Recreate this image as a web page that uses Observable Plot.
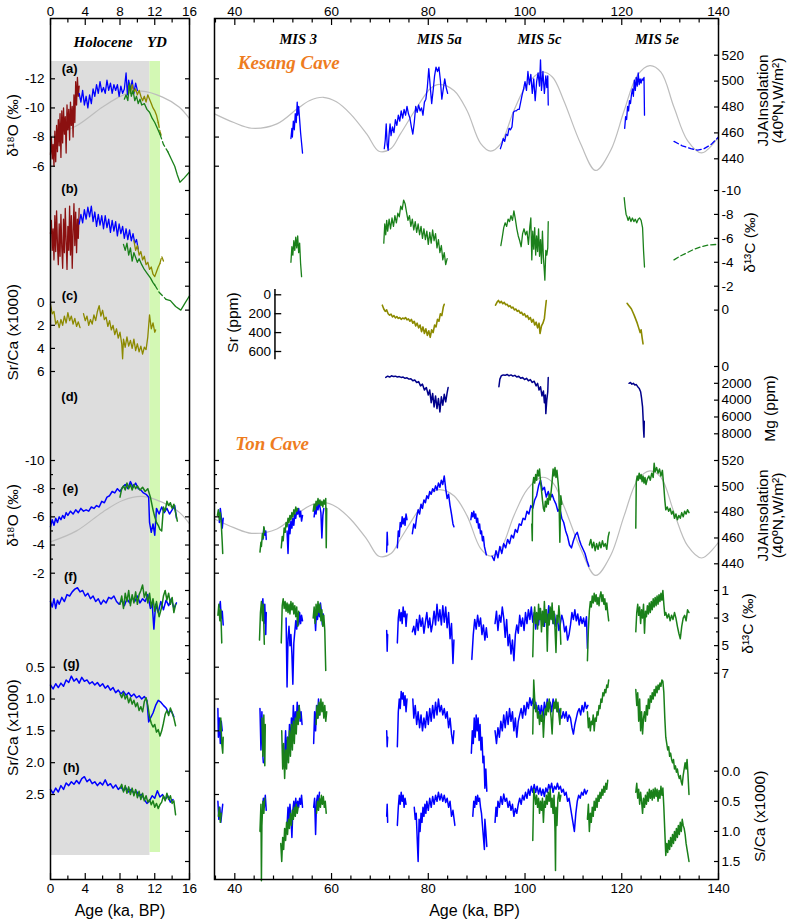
<!DOCTYPE html>
<html><head><meta charset="utf-8">
<script src="https://cdn.jsdelivr.net/npm/d3@7"></script>
<script src="https://cdn.jsdelivr.net/npm/@observablehq/plot@0.6"></script>
<style>
body{margin:0;background:#fff}
#chart{position:relative;width:787px;height:919px;background:#fff;overflow:hidden}
#chart svg{position:absolute;left:0;top:0}
</style></head><body><div id="chart"></div>
<script>
// ===================== DATA (age ka BP, value) =====================
// JJA insolation 40N (W/m2)
const insolation = [[0,457],[3,465.5],[6,480],[8.3,489],[10.5,492.2],[12.9,487.6],[14.8,480],[16,471],
 [35.8,474.7],[39.8,468],[43.5,463.6],[48.7,467],[52.9,478.6],[55.5,485],[58.3,487.5],[61,484],[63.9,474.7],[67.3,459],[69.8,445.8],[72.3,448],[74.2,459],[77.7,480],[80.5,494.5],[82.3,497.5],[85.3,492.7],[88,477.3],[90.8,452],[92.9,446],[95,451.8],[97.7,477.3],[100.5,497.9],[103.5,507],[105.7,503],[108,485],[111.5,451.6],[114.6,431],[117.7,446.4],[120.5,477.3],[123.2,504.3],[125.8,512],[128.1,506.9],[130.8,479.8],[133.6,454],[136.5,444.5],[140,456.7]];

// Kesang Cave, Holocene panel: d18O (a)
const kO18Brown = [[0,-6.8],[0.1,-8.0],[0.2,-6.5],[0.3,-7.5],[0.4,-6.0],[0.5,-8.4],[0.6,-6.3],[0.7,-8.8],[0.8,-7.0],[0.9,-9.2],[1.0,-7.4],[1.1,-9.6],[1.2,-6.6],[1.3,-9.8],[1.4,-7.6],[1.5,-10.0],[1.6,-8.2],[1.7,-9.4],[1.8,-6.9],[1.9,-10.2],[2.0,-8.5],[2.1,-9.9],[2.2,-7.8],[2.3,-10.4],[2.4,-8.8],[2.5,-10.1],[2.6,-8.0],[2.7,-10.9],[2.8,-9.0],[2.9,-11.8],[3.0,-10.2],[3.1,-12.1],[3.2,-10.8],[3.3,-11.5]];
const kO18Blue = [[3.3,-11.0],[3.5,-10.4],[3.7,-11.2],[3.9,-10.2],[4.1,-10.8],[4.3,-10.0],[4.5,-10.9],[4.7,-10.3],[4.9,-11.3],[5.1,-10.8],[5.3,-11.6],[5.5,-11.0],[5.7,-11.8],[5.9,-11.1],[6.1,-11.4],[6.3,-11.0],[6.5,-11.9],[6.7,-11.2],[6.9,-11.7],[7.1,-11.0],[7.3,-11.6],[7.5,-11.2],[7.7,-11.6],[7.9,-10.8],[8.1,-11.5],[8.3,-11.0],[8.5,-11.3],[8.7,-12.4],[8.85,-10.9],[9.0,-11.9],[9.2,-11.2],[9.4,-11.9],[9.6,-11.0],[9.8,-11.7],[10.0,-11.2]];
const kO18Green = [[8.5,-10.6],[8.7,-10.9],[8.9,-10.5],[9.1,-11.7],[9.3,-10.8],[9.5,-11.2],[9.7,-10.5],[9.9,-10.8],[10.1,-10.3],[10.3,-10.6],[10.5,-10.2],[10.8,-10.3],[11.1,-9.9],[11.4,-9.7],[11.7,-9.3],[12.0,-9.0],[12.3,-8.6],[12.6,-8.2]];
const kO18GreenDash = [[12.6,-8.2],[13.0,-7.5],[13.5,-7.0]];
const kO18GreenTail = [[13.5,-7.0],[13.9,-6.5],[14.3,-6.0],[14.6,-5.4],[14.9,-4.9],[15.4,-5.2],[16,-5.6]];
const kO18Olive = [[9.0,-11.5],[9.2,-11.0],[9.4,-11.6],[9.6,-11.1],[9.8,-11.3],[10.0,-10.9],[10.2,-11.2],[10.4,-10.8],[10.6,-10.5],[10.8,-10.8],[11.0,-10.4],[11.2,-10.9],[11.4,-10.6],[11.6,-10.3],[11.8,-10.0],[12.0,-9.8],[12.2,-9.5],[12.4,-9.0]];
const kO18OliveDash = [[12.4,-9.0],[12.6,-8.4],[12.8,-8.0]];

// Kesang Cave, Holocene panel: d13C (b)
const kC13Brown = [[0,-6.4],[0.1,-7.5],[0.2,-5.0],[0.3,-6.8],[0.4,-4.2],[0.5,-7.9],[0.6,-4.9],[0.7,-8.3],[0.8,-5.5],[0.9,-3.8],[1.0,-7.2],[1.1,-4.5],[1.2,-8.0],[1.3,-5.2],[1.4,-3.5],[1.5,-7.6],[1.6,-4.8],[1.7,-8.5],[1.8,-5.8],[1.9,-3.4],[2.0,-7.0],[2.1,-5.0],[2.2,-8.7],[2.3,-4.6],[2.4,-7.9],[2.5,-3.5],[2.6,-6.5],[2.7,-8.9],[2.8,-5.4],[2.9,-8.2],[3.0,-4.8],[3.1,-7.6],[3.2,-6.0],[3.3,-8.5]];
const kC13Blue = [[3.3,-7.2],[3.5,-8.0],[3.7,-7.3],[3.9,-8.4],[4.1,-7.6],[4.3,-8.6],[4.5,-7.8],[4.7,-8.7],[4.9,-7.4],[5.1,-8.2],[5.3,-7.0],[5.5,-8.0],[5.7,-7.1],[5.9,-7.9],[6.1,-6.8],[6.3,-7.9],[6.5,-6.9],[6.7,-7.6],[6.9,-6.5],[7.1,-7.5],[7.3,-6.6],[7.5,-7.4],[7.7,-6.2],[7.9,-7.2],[8.1,-6.4],[8.3,-7.0],[8.5,-6.0],[8.7,-6.8],[8.9,-5.9],[9.1,-6.7],[9.3,-5.8],[9.5,-6.4],[9.7,-5.6],[9.9,-5.9],[10.1,-5.1]];
const kC13Green = [[8.4,-5.5],[8.6,-5.0],[8.8,-5.6],[9.0,-4.6],[9.2,-5.2],[9.4,-4.1],[9.6,-4.8],[9.8,-4.4],[10.0,-4.0],[10.2,-4.3],[10.5,-3.8],[10.8,-3.4],[11.1,-3.1],[11.5,-2.7],[11.8,-2.3],[12.0,-2.1]];
const kC13GreenDash = [[12.0,-2.1],[12.5,-1.5],[13.3,-0.9]];
const kC13GreenTail = [[13.3,-0.9],[13.8,-0.8],[14.4,-0.3],[15.0,0.0],[15.5,-0.6],[16,-1.2]];
const kC13Olive = [[9.6,-5.8],[9.8,-5.0],[10.0,-5.4],[10.2,-4.6],[10.4,-4.9],[10.6,-4.2],[10.8,-4.5],[11.0,-3.8],[11.2,-4.0],[11.4,-3.4],[11.6,-3.6],[11.8,-3.0],[12.0,-2.8],[12.2,-3.2],[12.4,-3.6],[12.6,-3.9]];
const kC13OliveDash = [[12.6,-3.9],[12.8,-4.5],[13.0,-4.1]];

// Kesang Cave, Holocene panel: Sr/Ca x1000 (c)
const kSrCa1 = [[0,0.2],[0.2,1.0],[0.4,0.8],[0.6,1.9],[0.8,1.6],[1.0,2.2],[1.2,1.5],[1.4,2.0],[1.6,1.2],[1.8,1.8],[2.0,0.9],[2.2,1.6],[2.4,1.2],[2.6,1.9],[2.8,1.4],[3.0,2.1],[3.2,1.7],[3.4,2.2]];
const kSrCa2 = [[3.8,1.0],[4.0,1.6],[4.2,1.2],[4.4,2.0],[4.6,1.5],[4.8,1.9],[5.0,1.1],[5.2,1.6],[5.4,0.8],[5.6,0.3],[5.8,1.2],[6.0,0.7],[6.2,1.5],[6.4,1.3],[6.6,2.1],[6.8,1.6],[7.0,2.4],[7.2,2.0],[7.4,2.8],[7.6,2.3],[7.8,3.1],[8.0,2.6],[8.2,3.6],[8.3,4.9],[8.4,3.2],[8.6,3.9],[8.8,3.0],[9.0,3.8],[9.2,3.3],[9.4,4.0],[9.6,3.2],[9.8,4.2],[10.0,3.6],[10.2,4.3],[10.4,3.8],[10.6,4.5],[10.8,3.9],[11.0,4.1],[11.2,3.0],[11.4,1.1],[11.6,2.3],[11.8,1.8],[12.0,2.6],[12.1,2.4]];

// Kesang Cave, last glacial panel
const kO18BlueR = [
 [[51.6,-7.9],[51.8,-8.6],[51.9,-8.0],[52.1,-9.1],[52.3,-8.5],[52.5,-9.6],[52.7,-9.0],[52.9,-10.4],[53.0,-9.5],[53.2,-10.1],[53.4,-9.2],[53.6,-8.3],[53.8,-7.6],[54.0,-6.9]],
 [[70.9,-7.2],[71.1,-7.8],[71.3,-8.9],[71.5,-7.5],[71.7,-7.1],[71.9,-8.2],[72.1,-8.9],[72.3,-8.1],[72.6,-8.7],[72.9,-8.3],[73.2,-9.2],[73.5,-8.8],[73.8,-9.5],[74.1,-9.1],[74.4,-9.8],[74.7,-9.3],[75.0,-9.9],[75.3,-9.5],[75.6,-10.1],[75.9,-9.6],[76.2,-9.3],[76.5,-8.7],[76.8,-8.2],[77.1,-9.0],[77.4,-10.1],[77.7,-9.7],[78.0,-10.2],[78.3,-9.8],[78.6,-10.0],[78.9,-9.5],[79.2,-10.4],[79.5,-10.6],[79.8,-11.4],[80.1,-12.7],[80.4,-11.5],[80.7,-10.3],[81.0,-11.2],[81.3,-12.2],[81.6,-12.8],[81.9,-12.5],[82.2,-12.8],[82.5,-11.9],[82.8,-10.6],[83.1,-11.3],[83.4,-12.0],[83.7,-11.4],[84.0,-11.0]],
 [[94.9,-7.2],[95.2,-7.5],[95.5,-7.9],[95.8,-7.7],[96.1,-8.2],[96.4,-8.1],[96.7,-8.6],[97.0,-8.5],[97.3,-8.7],[97.6,-9.7],[97.9,-9.8],[98.2,-9.8],[98.5,-9.9],[98.8,-9.9],[99.1,-10.4],[99.4,-10.9],[99.7,-11.3],[100.0,-11.8],[100.3,-11.2],[100.6,-12.5],[100.9,-11.6],[101.2,-12.3],[101.5,-11.0],[101.8,-12.0],[102.1,-10.5],[102.4,-11.8],[102.7,-12.4],[103.0,-11.5],[103.2,-13.3],[103.4,-11.2],[103.7,-12.5],[104.0,-11.0],[104.3,-12.2],[104.5,-11.4],[104.7,-12.2],[104.8,-10.2]],
 [[120.6,-8.6],[120.8,-9.4],[121.0,-9.2],[121.2,-10.1],[121.4,-9.8],[121.6,-10.5],[121.8,-10.3],[122.0,-10.9],[122.2,-11.3],[122.4,-10.8],[122.6,-11.9],[122.8,-11.2],[123.0,-12.1],[123.2,-11.5],[123.4,-12.4],[123.6,-11.6],[123.8,-12.0],[124.0,-11.7],[124.2,-12.0],[124.4,-11.9],[124.6,-12.1],[124.7,-9.5]]
];
const kO18BlueRDash = [[130.8,-7.7],[132.5,-7.4],[134.3,-7.2],[135.7,-7.1],[137.0,-7.2],[138.5,-7.5],[140,-8.0]];
const kC13GreenR = [
 [[51.6,-4.0],[51.8,-5.3],[52.0,-4.6],[52.2,-5.8],[52.4,-5.0],[52.6,-6.1],[52.8,-5.2],[53.0,-6.2],[53.2,-4.8],[53.4,-5.6],[53.6,-3.9],[53.8,-2.8]],
 [[70.8,-5.6],[71.0,-7.2],[71.2,-6.3],[71.4,-7.5],[71.6,-6.6],[71.9,-7.6],[72.2,-6.8],[72.5,-7.7],[72.8,-7.0],[73.1,-7.9],[73.4,-7.3],[73.7,-8.1],[74.0,-7.8],[74.3,-8.7],[74.6,-8.4],[74.9,-9.2],[75.2,-8.9],[75.5,-8.2],[75.8,-7.5],[76.1,-7.9],[76.4,-7.0],[76.7,-7.6],[77.0,-6.7],[77.3,-7.4],[77.6,-6.5],[77.9,-7.2],[78.2,-6.3],[78.5,-7.0],[78.8,-6.0],[79.1,-6.8],[79.4,-5.9],[79.7,-6.6],[80.0,-5.5],[80.3,-6.5],[80.6,-5.6],[80.9,-6.7],[81.2,-5.8],[81.5,-6.4],[81.8,-5.2],[82.1,-5.9],[82.4,-4.8],[82.7,-5.4],[83.0,-4.2],[83.3,-4.8],[83.6,-3.8],[83.9,-4.3]],
 [[95.0,-5.4],[95.3,-6.1],[95.6,-6.9],[95.9,-7.3],[96.2,-7.0],[96.5,-7.6],[96.8,-7.4],[97.1,-7.9],[97.4,-7.5],[97.7,-8.3],[98.0,-7.6],[98.3,-6.8],[98.6,-6.2],[98.9,-5.8],[99.2,-5.3],[99.5,-6.4],[99.8,-6.8],[100.1,-6.3],[100.4,-6.6],[100.7,-5.5],[101.0,-7.0],[101.2,-7.7],[101.4,-4.2],[101.6,-6.6],[101.8,-5.1],[102.0,-6.9],[102.2,-4.6],[102.4,-6.2],[102.6,-4.9],[102.8,-6.8],[103.0,-4.5],[103.2,-5.9],[103.4,-3.9],[103.6,-6.6],[103.8,-4.4],[104.0,-3.2],[104.1,-2.5],[104.3,-5.0],[104.5,-4.6],[104.7,-5.2],[104.8,-7.4]],
 [[120.5,-9.4],[120.7,-8.6],[120.9,-8.0],[121.1,-7.8],[121.3,-7.5],[121.6,-7.8],[121.9,-7.4],[122.2,-7.7],[122.5,-7.4],[122.8,-7.6],[123.1,-7.3],[123.4,-7.6],[123.7,-7.7],[124.0,-7.5],[124.3,-6.9],[124.5,-5.0],[124.7,-3.6]]
];
const kC13GreenRDash = [[130.8,-4.2],[132.0,-4.5],[133.5,-4.8],[135.0,-5.1],[136.5,-5.3],[138.0,-5.45],[140,-5.5]];
const kSr = [
 [[70.5,110],[70.8,150],[71.1,175],[71.4,160],[71.7,200],[72.0,215],[72.3,205],[72.6,235],[72.9,220],[73.2,245],[73.5,230],[73.8,250],[74.1,240],[74.4,260],[74.7,245],[75.0,255],[75.3,240],[75.6,265],[75.9,255],[76.2,280],[76.5,260],[76.8,300],[77.1,280],[77.4,330],[77.7,300],[78.0,350],[78.3,320],[78.6,390],[78.9,340],[79.2,410],[79.5,360],[79.8,430],[80.1,380],[80.4,450],[80.7,370],[81.0,400],[81.3,320],[81.6,340],[81.9,260],[82.2,280],[82.5,200],[82.8,220],[83.1,130],[83.3,100]],
 [[93.9,110],[94.2,80],[94.5,60],[94.8,85],[95.1,70],[95.4,95],[95.7,80],[96.0,105],[96.3,100],[96.6,125],[96.9,115],[97.2,140],[97.5,130],[97.8,160],[98.1,150],[98.4,175],[98.7,165],[99.0,195],[99.3,185],[99.6,215],[99.9,200],[100.2,235],[100.5,220],[100.8,260],[101.1,240],[101.4,290],[101.7,260],[102.0,320],[102.3,290],[102.6,350],[102.9,300],[103.1,410],[103.4,330],[103.7,300],[104.0,250],[104.2,150],[104.4,60]],
 [[121.1,90],[121.4,110],[121.7,130],[122.0,150],[122.3,185],[122.6,220],[122.9,260],[123.2,300],[123.5,350],[123.8,400],[124.0,370],[124.2,450],[124.4,520]]
];
const kMg = [
 [[71.2,1300],[71.6,1150],[72.0,1250],[72.4,1100],[72.8,1200],[73.2,1150],[73.6,1250],[74.0,1200],[74.4,1300],[74.8,1250],[75.2,1400],[75.6,1350],[76.0,1500],[76.4,1450],[76.8,1700],[77.2,1600],[77.6,1900],[78.0,1800],[78.4,2300],[78.8,2100],[79.2,2800],[79.6,2500],[80.0,3400],[80.3,2800],[80.6,4300],[80.9,3200],[81.2,4800],[81.5,3500],[81.8,5000],[82.1,3800],[82.4,5400],[82.7,3600],[83.0,4600],[83.3,3300],[83.6,4200],[83.9,3100],[84.1,2500]],
 [[94.6,2400],[94.8,1500],[95.1,1100],[95.5,1000],[95.9,1050],[96.3,950],[96.7,1100],[97.1,1000],[97.5,1150],[97.9,1050],[98.3,1250],[98.7,1150],[99.1,1400],[99.5,1300],[99.9,1550],[100.3,1400],[100.7,1700],[101.1,1550],[101.5,1900],[101.9,1750],[102.3,2300],[102.6,2000],[102.9,2800],[103.2,2400],[103.5,3500],[103.8,2900],[104.0,4300],[104.2,3400],[104.3,5600],[104.5,4000],[104.7,3000],[104.8,1300]],
 [[121.5,2000],[121.8,1900],[122.1,2100],[122.4,2000],[122.7,2200],[123.0,2150],[123.3,2400],[123.6,2600],[123.9,3000],[124.1,3800],[124.3,4800],[124.4,6000],[124.5,7500],[124.6,8400],[124.65,6500]]
];

// Ton Cave, Holocene panel
const tO18BlueL = [[0,-5.3],[0.2,-5.8],[0.4,-5.4],[0.6,-5.9],[0.8,-5.6],[1.0,-6.0],[1.2,-5.8],[1.4,-6.1],[1.6,-5.9],[1.8,-6.3],[2.0,-6.1],[2.3,-6.4],[2.6,-6.2],[2.9,-6.5],[3.2,-6.3],[3.5,-6.6],[3.8,-6.4],[4.1,-6.5],[4.4,-6.4],[4.7,-6.7],[5.0,-6.6],[5.3,-6.8],[5.6,-6.7],[5.9,-7.1],[6.2,-7.0],[6.5,-7.4],[6.8,-7.5],[7.1,-7.8],[7.4,-7.7],[7.7,-8.0],[8.0,-7.8],[8.3,-8.1],[8.6,-8.3],[8.9,-8.0],[9.2,-8.5],[9.5,-8.1],[9.8,-8.4],[10.1,-8.0],[10.4,-7.9],[10.7,-7.7],[11.0,-7.6],[11.3,-7.4],[11.4,-5.6],[11.6,-4.9],[11.8,-5.5],[12.0,-4.7],[12.2,-6.6],[12.5,-6.2],[12.8,-6.7],[13.1,-6.3],[13.4,-6.6],[13.7,-6.2],[14.0,-6.5],[14.3,-6.8],[14.5,-5.9]];
const tO18GreenL = [[8.0,-7.4],[8.2,-8.0],[8.4,-8.2],[8.6,-7.9],[8.8,-8.4],[9.0,-8.0],[9.2,-8.3],[9.4,-7.9],[9.6,-8.3],[9.8,-8.0],[10.0,-8.2],[10.3,-7.9],[10.6,-8.1],[10.9,-7.8],[11.2,-8.0],[11.5,-7.4],[11.8,-6.5],[12.0,-6.0],[12.2,-5.6],[12.4,-5.4],[12.6,-5.1],[12.8,-5.0],[13.0,-6.7],[13.2,-6.4],[13.4,-7.1],[13.6,-6.8],[13.8,-7.0],[14.0,-6.6],[14.2,-6.9],[14.4,-6.3],[14.6,-5.7]];
const tC13BlueL = [[0,1.8],[0.2,2.2],[0.4,1.6],[0.6,2.3],[0.8,1.7],[1.0,2.0],[1.3,1.5],[1.6,1.8],[1.9,1.3],[2.2,1.4],[2.5,1.1],[2.8,0.9],[3.1,0.8],[3.4,1.1],[3.7,1.0],[4.0,1.4],[4.3,1.2],[4.6,1.6],[4.9,1.4],[5.2,1.8],[5.5,1.6],[5.8,2.0],[6.1,1.7],[6.4,1.9],[6.7,1.5],[7.0,1.6],[7.3,1.4],[7.6,1.8],[7.9,2.0],[8.2,1.7],[8.5,2.1],[8.8,1.6],[9.1,1.9],[9.4,1.5],[9.7,1.8],[10.0,1.4],[10.3,1.9],[10.6,1.6],[10.9,1.8],[11.2,1.3],[11.5,2.3],[11.7,1.9],[11.9,3.8],[12.1,2.0],[12.4,2.6],[12.7,1.8],[13.0,2.4],[13.3,1.7],[13.6,2.1],[13.9,1.6],[14.2,2.3],[14.5,1.9]];
const tC13GreenL = [[8.0,2.0],[8.2,1.4],[8.4,2.3],[8.6,1.2],[8.8,1.8],[9.0,1.0],[9.2,2.1],[9.4,1.3],[9.6,1.9],[9.8,1.1],[10.0,2.0],[10.2,1.3],[10.4,1.0],[10.6,0.6],[10.8,1.5],[11.0,1.1],[11.2,1.9],[11.4,1.2],[11.6,2.2],[11.8,1.6],[12.0,2.5],[12.2,1.8],[12.5,2.9],[12.8,2.2],[13.0,1.4],[13.2,1.0],[13.4,1.7],[13.6,1.2],[13.8,2.0],[14.0,1.5],[14.2,2.6],[14.4,2.0]];
const tGBlueL = [[0,0.78],[0.3,0.84],[0.6,0.76],[0.9,0.82],[1.2,0.75],[1.5,0.80],[1.8,0.70],[2.1,0.74],[2.4,0.64],[2.7,0.72],[3.0,0.68],[3.3,0.75],[3.6,0.66],[3.9,0.72],[4.2,0.70],[4.5,0.76],[4.8,0.73],[5.1,0.78],[5.4,0.74],[5.7,0.80],[6.0,0.76],[6.3,0.83],[6.6,0.79],[6.9,0.86],[7.2,0.82],[7.5,0.90],[7.8,0.86],[8.1,0.92],[8.4,0.88],[8.7,0.94],[9.0,0.90],[9.3,0.96],[9.6,0.92],[9.9,0.98],[10.2,0.95],[10.5,1.00],[10.8,0.96],[11.1,1.02],[11.3,1.36],[11.5,1.30],[11.8,1.22],[12.1,1.10],[12.4,1.02],[12.7,1.05],[13.0,1.10],[13.3,1.14],[13.6,1.22],[13.9,1.18],[14.2,1.28]];
const tGGreenL = [[8.0,0.92],[8.2,0.98],[8.4,0.90],[8.6,1.00],[8.8,0.94],[9.0,1.06],[9.2,0.98],[9.4,1.08],[9.6,1.02],[9.8,1.12],[10.0,1.06],[10.2,1.18],[10.4,1.12],[10.6,1.20],[10.8,1.04],[11.0,0.98],[11.2,1.10],[11.4,1.28],[11.6,1.38],[11.8,1.44],[12.0,1.40],[12.2,1.52],[12.4,1.48],[12.6,1.58],[12.8,1.50],[13.0,1.38],[13.2,1.24],[13.4,1.18],[13.6,1.26],[13.8,1.14],[14.0,1.22],[14.2,1.30],[14.4,1.42]];
const tHBlueL = [[0,2.42],[0.3,2.48],[0.6,2.40],[0.9,2.46],[1.2,2.36],[1.5,2.42],[1.8,2.32],[2.1,2.36],[2.4,2.30],[2.7,2.34],[3.0,2.28],[3.3,2.33],[3.6,2.25],[3.9,2.22],[4.2,2.30],[4.5,2.26],[4.8,2.33],[5.1,2.30],[5.4,2.36],[5.7,2.31],[6.0,2.35],[6.3,2.27],[6.6,2.36],[6.9,2.33],[7.2,2.40],[7.5,2.35],[7.8,2.42],[8.1,2.38],[8.4,2.44],[8.7,2.40],[9.0,2.46],[9.3,2.42],[9.6,2.48],[9.9,2.45],[10.2,2.52],[10.5,2.50],[10.8,2.58],[11.1,2.64],[11.4,2.60],[11.7,2.52],[12.0,2.56],[12.3,2.44],[12.6,2.54],[12.9,2.50],[13.2,2.58],[13.5,2.52],[13.8,2.62],[14.1,2.58]];
const tHGreenL = [[8.0,2.40],[8.2,2.34],[8.4,2.46],[8.6,2.36],[8.8,2.48],[9.0,2.38],[9.2,2.50],[9.4,2.40],[9.6,2.52],[9.8,2.42],[10.0,2.55],[10.2,2.45],[10.4,2.58],[10.6,2.48],[10.8,2.60],[11.0,2.52],[11.2,2.62],[11.4,2.58],[11.6,2.66],[11.8,2.60],[12.0,2.70],[12.2,2.64],[12.4,2.72],[12.6,2.66],[12.8,2.62],[13.0,2.52],[13.2,2.60],[13.4,2.48],[13.6,2.58],[13.8,2.52],[14.0,2.64],[14.2,2.60],[14.4,2.82]];

// Ton Cave, last glacial panel: d18O (e)
const tO18BlueR = [
 [[36.8,-5.6],[37.0,-6.6],[37.2,-6.0],[37.4,-5.2],[37.6,-5.9]],
 [[45.8,-4.4],[46.0,-5.2],[46.2,-4.7],[46.4,-5.0],[46.5,-4.4]],
 [[50.8,-5.0],[51.0,-3.4],[51.2,-5.5],[51.4,-4.8],[51.6,-5.7],[51.8,-5.2],[52.0,-5.9],[52.2,-5.4],[52.4,-6.2],[52.6,-5.9],[52.8,-6.5],[53.0,-6.2],[53.2,-6.6],[53.4,-6.0],[53.6,-6.4],[53.8,-5.7],[54.0,-6.1]],
 [[56.4,-6.0],[56.6,-6.6],[56.8,-6.2],[57.0,-6.9],[57.2,-6.5],[57.4,-7.0],[57.6,-6.7],[57.8,-6.3],[58.0,-4.5],[58.2,-6.1],[58.4,-6.6]],
 [[71.4,-3.5],[71.5,-4.9],[71.6,-4.0]],
 [[73.6,-3.8],[73.8,-5.0],[74.0,-4.6],[74.2,-5.6],[74.4,-5.3],[74.6,-6.0],[74.8,-5.5],[75.0,-5.9],[75.2,-5.4],[75.4,-6.2],[75.6,-5.8]],
 [[76.7,-4.8],[77.0,-5.5],[77.3,-5.2],[77.6,-6.0],[77.9,-6.5],[78.2,-6.2],[78.5,-6.9],[78.8,-6.6],[79.1,-7.2],[79.4,-7.0],[79.7,-7.5],[80.0,-7.3],[80.3,-7.8],[80.6,-7.6],[80.9,-8.0],[81.2,-7.8],[81.5,-8.2],[81.8,-7.9],[82.1,-8.4],[82.4,-8.1],[82.7,-8.6],[83.0,-8.3],[83.3,-8.9],[83.6,-8.0],[83.9,-7.3],[84.2,-7.6],[84.5,-6.8],[84.8,-6.2],[85.1,-5.5],[85.3,-5.3]],
 [[88.8,-5.8],[89.0,-6.3],[89.2,-6.0],[89.4,-6.4],[89.6,-5.9],[89.8,-6.2],[90.0,-5.6],[90.2,-5.9],[90.4,-5.2],[90.6,-5.5],[90.8,-4.8],[91.0,-5.0],[91.2,-4.3],[91.4,-4.6],[91.6,-3.9],[91.8,-3.6],[92.0,-3.3]],
 [[93.2,-3.2],[93.6,-2.9],[94.0,-3.6],[94.4,-3.1],[94.8,-3.9],[95.2,-3.4],[95.6,-4.1],[96.0,-3.8],[96.4,-4.4],[96.8,-4.1],[97.2,-4.7],[97.6,-4.5],[98.0,-5.1],[98.4,-4.9],[98.8,-5.5],[99.2,-5.4],[99.6,-5.9],[100.0,-5.8],[100.4,-6.4],[100.8,-6.2],[101.2,-6.8],[101.6,-6.6],[102.0,-7.2],[102.4,-7.5],[102.8,-8.2],[103.2,-8.6],[103.6,-7.9],[104.0,-8.1],[104.4,-7.4],[104.8,-7.8],[105.2,-7.3],[105.6,-7.6],[106.0,-7.2],[106.4,-6.9],[106.8,-6.4],[107.2,-6.6],[107.6,-5.9],[108.0,-5.6],[108.4,-5.0],[108.8,-4.6],[109.2,-4.0],[109.6,-3.8],[110.0,-4.3],[110.4,-4.7],[110.8,-4.9],[111.2,-4.4],[111.6,-4.0],[112.0,-3.7],[112.4,-3.4],[112.8,-2.9],[113.2,-2.5]]
];
const tO18GreenR = [
 [[36.4,-6.1],[36.6,-6.5],[36.8,-5.8],[37.0,-6.3],[37.2,-5.5],[37.4,-4.2],[37.5,-3.4]],
 [[45.2,-3.5],[45.4,-4.2],[45.5,-3.9],[45.7,-4.8],[45.9,-4.5],[46.0,-5.3],[46.2,-4.9]],
 [[49.6,-3.8],[49.8,-4.6],[50.0,-4.3],[50.2,-5.2],[50.4,-4.9],[50.6,-5.6],[50.8,-5.3],[51.0,-5.9],[51.2,-5.6],[51.4,-6.1],[51.6,-5.8],[51.8,-6.3],[52.0,-6.0],[52.2,-6.5],[52.4,-6.2],[52.6,-6.7],[52.8,-6.4],[53.0,-6.6]],
 [[56.2,-6.4],[56.4,-6.9],[56.6,-6.5],[56.8,-7.1],[57.0,-6.8],[57.2,-7.3],[57.4,-6.9],[57.6,-7.2],[57.8,-6.8],[58.0,-7.1],[58.2,-6.7],[58.4,-7.2],[58.6,-6.9],[58.8,-7.3],[58.9,-3.8],[59.0,-6.6]],
 [[101.4,-5.5],[101.5,-4.3],[101.6,-8.3],[101.8,-8.8],[102.0,-8.4],[102.2,-9.0],[102.4,-8.6],[102.6,-9.3],[102.8,-8.9],[103.0,-9.4],[103.2,-8.5],[103.4,-7.9],[103.6,-7.2],[103.8,-6.6],[104.0,-6.4],[104.2,-7.1],[104.4,-6.7],[104.6,-7.3],[104.8,-6.9],[105.0,-7.6],[105.2,-7.2],[105.4,-7.8],[105.6,-8.5],[105.8,-9.4],[106.0,-8.9],[106.2,-9.5],[106.4,-8.8],[106.6,-9.3],[106.8,-8.6],[107.0,-7.8],[107.2,-4.2],[107.4,-7.5],[107.6,-6.9]],
 [[113.3,-4.0],[113.6,-4.4],[113.9,-3.8],[114.2,-4.2],[114.5,-3.6],[114.8,-4.1],[115.1,-3.7],[115.4,-4.2],[115.7,-3.8],[116.0,-4.3],[116.3,-3.9],[116.6,-4.1],[116.9,-3.7],[117.2,-4.6],[117.4,-4.9]],
 [[122.9,-5.2],[123.0,-8.5],[123.2,-8.9],[123.4,-8.6],[123.6,-9.1],[123.8,-8.7],[124.0,-9.0],[124.2,-8.5],[124.4,-8.9],[124.6,-8.4],[124.8,-8.8],[125.0,-8.3],[125.3,-8.7],[125.6,-8.9],[125.9,-8.6],[126.2,-9.1],[126.5,-8.8],[126.7,-9.8],[126.9,-9.2],[127.2,-9.5],[127.5,-9.1],[127.8,-9.4],[128.1,-8.9],[128.4,-9.3],[128.7,-8.1],[128.9,-7.2],[129.1,-6.5],[129.4,-6.7],[129.7,-6.4],[130.0,-6.6],[130.3,-6.2],[130.6,-6.4],[130.9,-5.9],[131.2,-6.2],[131.5,-5.8],[131.8,-6.1],[132.1,-5.9],[132.4,-6.3],[132.7,-6.0],[133.0,-6.4],[133.3,-6.2],[133.6,-6.5],[133.9,-6.3]]
];
// Ton Cave, last glacial panel: d13C (f)
const tC13BlueR = [
 [[36.8,2.2],[37.0,1.8],[37.2,3.0],[37.4,2.5],[37.6,3.5]],
 [[45.6,2.2],[45.8,1.6],[46.0,3.4],[46.2,2.0],[46.4,4.2],[46.5,2.6]],
 [[50.6,3.0],[50.8,8.0],[51.0,4.5],[51.2,3.6],[51.4,5.0],[51.6,4.2],[51.8,5.6],[52.0,7.8],[52.2,4.8],[52.4,4.0],[52.6,3.2],[52.8,3.8],[53.0,2.9],[53.2,3.5],[53.4,2.6],[53.6,3.4],[53.8,2.8],[54.0,3.2]],
 [[56.5,2.6],[56.7,3.9],[56.9,2.4],[57.1,3.1],[57.3,2.2],[57.5,2.9],[57.7,1.9],[57.9,2.5],[58.1,3.5],[58.3,2.7]],
 [[71.4,3.9],[71.5,5.4],[71.6,4.2]],
 [[73.6,4.8],[73.8,3.0],[74.0,2.4],[74.2,3.2],[74.4,2.6],[74.6,3.4],[74.8,2.2],[75.0,2.9],[75.2,2.5],[75.4,3.6],[75.6,2.7]],
 [[76.7,4.0],[77.0,3.6],[77.3,4.2],[77.6,3.1],[77.9,3.9],[78.2,2.8],[78.5,3.6],[78.8,3.0],[79.1,4.1],[79.4,3.3],[79.7,2.6],[80.0,3.7],[80.3,3.0],[80.6,4.0],[80.9,3.4],[81.2,2.5],[81.5,3.5],[81.8,2.0],[82.1,3.2],[82.4,2.4],[82.7,3.5],[83.0,2.1],[83.3,3.3],[83.6,2.2],[83.9,3.7],[84.2,2.6],[84.5,4.5],[84.8,3.4],[85.1,6.3],[85.3,4.6]],
 [[89.0,6.0],[89.3,4.2],[89.6,3.1],[89.9,3.8],[90.2,2.8],[90.5,3.6],[90.8,3.0],[91.1,4.2],[91.4,3.5],[91.7,4.6],[92.0,3.7],[92.2,4.4]],
 [[93.8,3.4],[94.1,2.5],[94.4,3.9],[94.7,2.8],[95.0,3.3],[95.3,2.2],[95.6,3.0],[95.9,4.4],[96.2,3.1],[96.5,5.0],[96.8,4.2],[97.1,5.6],[97.4,4.6],[97.7,6.1],[98.0,4.2],[98.3,3.5],[98.6,4.1],[98.9,2.8],[99.2,3.6],[99.5,3.0],[99.8,3.9],[100.1,2.6],[100.4,3.4],[100.7,2.4],[101.0,3.1],[101.3,2.2],[101.6,3.3],[101.9,2.6],[102.2,3.8],[102.5,2.9],[102.8,3.5],[103.1,2.3],[103.4,3.2],[103.7,2.6],[104.0,3.6],[104.3,2.4],[104.6,3.3],[104.9,2.1],[105.2,3.0],[105.5,2.6],[105.8,3.4],[106.1,2.7],[106.4,3.6],[106.7,3.0],[107.0,3.9],[107.3,3.4],[107.6,2.8],[107.9,3.2],[108.2,4.0],[108.5,3.6],[108.8,4.6],[109.1,4.2],[109.4,3.5],[109.7,2.6],[110.0,3.1],[110.3,2.4],[110.6,3.2],[110.9,2.7],[111.2,3.5],[111.5,2.9],[111.8,3.4],[112.1,3.0],[112.4,3.6],[112.7,2.9],[112.9,5.2]]
];
const tC13GreenR = [
 [[36.5,2.8],[36.7,2.0],[36.9,3.2],[37.1,2.4],[37.3,4.8]],
 [[45.1,4.6],[45.3,2.6],[45.5,1.8],[45.7,3.2],[45.9,2.0],[46.1,4.9]],
 [[49.6,4.8],[49.8,2.1],[50.0,1.6],[50.2,2.3],[50.4,1.8],[50.6,2.5],[50.8,1.9],[51.0,2.6],[51.2,2.0],[51.4,2.7],[51.6,1.8],[51.8,2.4],[52.0,1.9],[52.2,2.7],[52.4,2.1],[52.6,2.9],[52.8,2.2],[53.0,3.6],[53.2,2.5]],
 [[56.2,3.0],[56.4,2.2],[56.6,3.4],[56.8,2.0],[57.0,2.8],[57.2,1.8],[57.4,2.6],[57.6,2.0],[57.8,3.2],[58.0,2.4],[58.2,3.6],[58.4,2.8],[58.6,3.9],[58.8,6.8]],
 [[101.6,5.8],[101.8,3.0],[102.0,2.2],[102.2,3.4],[102.4,2.6],[102.6,3.8],[102.8,2.0],[103.0,3.1],[103.2,2.3],[103.4,4.0],[103.6,2.5],[103.8,3.6],[104.0,1.8],[104.2,3.3],[104.4,2.4],[104.6,5.4],[104.8,2.7],[105.0,3.5],[105.2,2.2],[105.4,3.1],[105.6,1.9],[105.8,3.4],[106.0,2.5],[106.2,3.8],[106.4,5.5],[106.6,2.8],[106.8,3.3],[107.0,2.1],[107.2,3.0],[107.4,4.9]],
 [[112.9,6.1],[113.1,3.8],[113.3,2.5],[113.5,1.8],[113.7,2.2],[113.9,1.4],[114.1,1.9],[114.3,1.2],[114.5,1.8],[114.7,1.3],[114.9,2.0],[115.1,1.5],[115.3,2.1],[115.5,1.4],[115.7,1.1],[115.9,1.8],[116.1,1.3],[116.3,2.0],[116.5,1.6],[116.7,2.4],[116.9,1.9],[117.1,2.6],[117.3,3.2]],
 [[122.9,4.0],[123.1,2.6],[123.3,2.0],[123.5,2.8],[123.7,2.2],[123.9,3.4],[124.1,2.4],[124.3,3.0],[124.5,2.0],[124.7,4.1],[124.9,2.5],[125.1,2.9],[125.3,2.1],[125.5,2.7],[125.7,1.9],[125.9,2.6],[126.1,1.8],[126.3,2.4],[126.5,1.6],[126.7,2.2],[126.9,1.5],[127.1,2.1],[127.3,1.4],[127.5,2.0],[127.7,1.3],[127.9,1.8],[128.1,1.2],[128.3,1.7],[128.5,1.0],[128.7,2.0],[128.9,2.8],[129.1,2.6],[129.4,3.0],[129.7,2.7],[130.0,3.2],[130.3,2.8],[130.6,3.1],[130.9,2.6],[131.2,3.0],[131.5,3.6],[131.8,4.1],[132.1,4.5],[132.4,3.6],[132.7,3.0],[133.0,2.8],[133.3,3.2],[133.6,2.4],[133.9,2.6]]
];
// Ton Cave, last glacial panel: Sr/Ca x1000 (g)
const tGBlueR = [
 [[36.5,1.15],[36.6,1.6],[36.8,1.3],[37.0,1.7],[37.2,1.35],[37.4,1.5]],
 [[45.2,1.15],[45.4,1.8],[45.6,1.2],[45.8,1.9],[45.9,2.0]],
 [[50.3,1.9],[50.5,1.5],[50.7,2.0],[50.9,1.6],[51.1,1.9],[51.3,1.4],[51.5,1.8],[51.7,1.3],[51.9,1.6],[52.1,1.1],[52.3,1.5],[52.5,1.2],[52.7,1.4],[52.9,1.05],[53.1,1.3],[53.3,1.1],[53.5,1.35],[53.7,1.2],[53.9,1.4]],
 [[56.3,1.7],[56.5,1.2],[56.7,1.5],[56.9,1.1],[57.1,1.3],[57.3,1.0],[57.5,1.25]],
 [[71.4,1.5],[71.5,1.75],[71.6,1.6]],
 [[73.6,1.75],[73.8,1.2],[74.0,1.0],[74.2,1.15],[74.4,0.88],[74.6,1.0],[74.8,0.9],[75.0,1.1],[75.2,0.95],[75.4,1.2],[75.6,1.0]],
 [[76.8,1.0],[77.0,1.3],[77.3,1.1],[77.6,1.4],[77.9,1.2],[78.2,1.45],[78.5,1.25],[78.8,1.5],[79.1,1.3],[79.4,1.45],[79.7,1.2],[80.0,1.4],[80.3,1.15],[80.6,1.35],[80.9,1.1],[81.2,1.3],[81.5,1.05],[81.8,1.25],[82.1,1.0],[82.4,1.2],[82.7,1.1],[83.0,1.25],[83.3,1.15],[83.6,1.3],[83.9,1.2],[84.2,1.45],[84.5,1.3],[84.8,1.55],[85.1,1.7],[85.3,1.5]],
 [[88.9,1.85],[89.1,1.5],[89.3,1.7],[89.5,1.3],[89.7,1.6],[89.9,1.25],[90.1,1.5],[90.3,1.3],[90.5,1.65],[90.7,1.4],[90.9,1.8],[91.1,1.6],[91.3,2.0],[91.5,1.9],[91.7,2.4],[91.9,2.1],[92.1,2.45]],
 [[93.8,1.5],[94.1,1.7],[94.4,1.45],[94.7,1.6],[95.0,1.35],[95.3,1.5],[95.6,1.25],[95.9,1.45],[96.2,1.2],[96.5,1.4],[96.8,1.15],[97.1,1.35],[97.4,1.2],[97.7,1.5],[98.0,1.3],[98.3,1.6],[98.6,1.35],[98.9,1.25],[99.2,1.15],[99.5,1.3],[99.8,1.1],[100.1,1.25],[100.4,1.05],[100.7,1.15],[101.0,0.98],[101.3,1.1],[101.6,1.0],[101.9,1.15],[102.2,1.05],[102.5,1.2],[102.8,1.1],[103.1,1.25],[103.4,1.1],[103.7,1.3],[104.0,1.05],[104.3,1.2],[104.6,1.0],[104.9,1.15],[105.2,1.05],[105.5,1.2],[105.8,1.0],[106.1,1.1],[106.4,1.05],[106.7,1.2],[107.0,1.15],[107.3,1.25],[107.6,1.3],[107.9,1.2],[108.2,1.3],[108.5,1.2],[108.8,1.35],[109.1,1.25],[109.4,1.3],[109.7,1.45],[110.0,1.55],[110.3,1.4],[110.6,1.3],[110.9,1.2],[111.2,1.15],[111.5,1.25],[111.8,1.1],[112.1,1.2],[112.4,1.05],[112.7,1.15],[113.0,1.1]]
];
const tGGreenR = [
 [[36.9,1.5],[37.1,1.3],[37.3,1.7],[37.5,1.85],[37.6,1.6]],
 [[45.6,1.3],[45.8,1.9],[46.0,1.25],[46.2,2.05],[46.3,1.4]],
 [[49.7,1.5],[49.9,2.1],[50.1,1.7],[50.3,2.25],[50.5,1.8],[50.7,2.1],[50.9,1.6],[51.1,2.0],[51.3,1.5],[51.5,1.9],[51.7,1.4],[51.9,1.8],[52.1,1.35],[52.3,1.7],[52.5,1.3],[52.7,1.55],[52.9,1.2],[53.1,1.4],[53.3,1.1],[53.5,1.3]],
 [[56.8,1.4],[57.0,1.1],[57.2,1.3],[57.4,1.05],[57.6,1.25],[57.8,1.0],[58.0,1.2],[58.2,1.05],[58.4,1.3],[58.6,1.1],[58.8,1.35],[59.0,1.2]],
 [[101.6,1.55],[101.8,0.7],[102.0,1.0],[102.2,1.2],[102.4,1.1],[102.6,1.3],[102.8,1.2],[103.0,1.4],[103.2,1.25],[103.4,1.35],[103.6,1.2],[103.8,1.6],[104.0,1.3],[104.2,1.15],[104.4,1.25],[104.6,1.05],[104.8,1.2],[105.0,1.0],[105.2,1.15],[105.4,1.3],[105.6,1.55],[105.8,1.2],[106.0,1.05],[106.2,1.15],[106.4,1.0],[106.6,1.2],[106.8,1.05],[107.0,1.25],[107.2,1.4],[107.4,1.15]],
 [[112.9,1.2],[113.1,1.45],[113.3,1.3],[113.5,1.5],[113.7,1.35],[113.9,1.4],[114.1,1.25],[114.3,1.5],[114.5,1.3],[114.7,1.35],[114.9,1.2],[115.1,1.25],[115.3,1.1],[115.5,1.15],[115.7,1.0],[115.9,1.05],[116.1,0.9],[116.3,0.95],[116.5,0.85],[116.7,0.9],[116.9,0.78],[117.1,0.82],[117.3,0.7]],
 [[122.9,0.85],[123.1,1.1],[123.3,0.9],[123.5,1.35],[123.7,1.0],[123.9,1.5],[124.1,1.2],[124.3,1.55],[124.5,1.3],[124.7,1.2],[124.9,1.35],[125.1,1.1],[125.3,1.25],[125.5,1.0],[125.7,1.15],[125.9,0.95],[126.1,1.05],[126.3,0.9],[126.5,1.0],[126.7,0.85],[126.9,0.95],[127.1,0.8],[127.3,0.9],[127.5,0.78],[127.7,0.85],[127.9,0.75],[128.1,0.8],[128.3,0.7],[128.5,0.72],[128.7,0.9],[128.9,1.3],[129.1,1.6],[129.3,1.7],[129.5,1.8],[129.7,1.75],[129.9,1.9],[130.1,1.85],[130.3,1.95],[130.5,2.0],[130.7,1.95],[130.9,2.1],[131.1,2.05],[131.3,2.15],[131.5,2.1],[131.7,2.2],[131.9,2.25],[132.1,2.2],[132.3,2.3],[132.5,2.35],[132.7,2.2],[132.9,2.1],[133.1,2.0],[133.3,2.1],[133.5,1.95],[133.7,2.2],[133.9,2.5]]
];
// Ton Cave, last glacial panel: S/Ca x1000 (h)
const tSCaBlueR = [
 [[36.5,0.5],[36.7,0.8],[36.9,0.6],[37.1,0.85],[37.3,0.7],[37.5,0.55]],
 [[45.7,0.7],[45.9,0.45],[46.1,0.6],[46.3,0.4],[46.5,0.65]],
 [[50.8,0.9],[51.0,0.6],[51.2,0.8],[51.4,0.55],[51.6,0.75],[51.8,1.1],[52.0,0.65],[52.2,0.5],[52.4,0.7],[52.6,0.45],[52.8,0.65],[53.0,0.5],[53.2,0.6],[53.4,0.45],[53.6,0.55],[53.8,0.4],[54.0,0.6]],
 [[56.3,0.6],[56.5,0.45],[56.7,1.05],[56.9,0.5],[57.1,0.4],[57.3,0.55],[57.5,0.35]],
 [[71.4,0.75],[71.5,0.55],[71.6,0.85]],
 [[73.6,0.9],[73.8,0.6],[74.0,0.4],[74.2,0.55],[74.4,0.35],[74.6,0.5],[74.8,0.4],[75.0,0.6],[75.2,0.45],[75.4,0.55]],
 [[77.1,0.6],[77.3,0.8],[77.5,0.7],[77.7,1.1],[77.9,1.5],[78.1,0.8],[78.3,1.0],[78.5,0.7],[78.7,0.85],[78.9,0.6],[79.1,0.75],[79.3,0.55],[79.5,0.7],[79.7,0.5],[80.0,0.65],[80.3,0.45],[80.6,0.6],[80.9,0.42],[81.2,0.55],[81.5,0.4],[81.8,0.5],[82.1,0.35],[82.4,0.48],[82.7,0.38],[83.0,0.5],[83.3,0.4],[83.6,0.52],[83.9,0.45],[84.2,0.6],[84.5,0.5],[84.8,0.75],[85.1,0.65],[85.5,0.9]],
 [[89.2,0.75],[89.4,0.5],[89.6,0.6],[89.8,0.42],[90.0,0.55],[90.2,0.4],[90.4,0.5],[90.6,0.45],[90.8,0.6],[91.0,0.7],[91.2,0.9],[91.4,1.1],[91.6,1.3],[91.7,0.8],[91.9,1.0],[92.1,1.25]],
 [[93.8,0.85],[94.0,0.6],[94.2,0.75],[94.4,0.5],[94.7,0.6],[95.0,0.42],[95.3,0.55],[95.6,0.38],[95.9,0.5],[96.2,0.45],[96.5,0.6],[96.8,0.5],[97.1,0.65],[97.4,0.55],[97.7,0.75],[98.0,0.62],[98.3,0.7],[98.6,0.55],[98.9,0.45],[99.2,0.55],[99.5,0.4],[99.8,0.48],[100.1,0.35],[100.4,0.45],[100.7,0.3],[101.0,0.4],[101.3,0.25],[101.6,0.35],[101.9,0.22],[102.2,0.35],[102.5,0.25],[102.8,0.38],[103.1,0.28],[103.4,0.4],[103.7,0.3],[104.0,0.42],[104.3,0.28],[104.6,0.35],[104.9,0.22],[105.2,0.3],[105.5,0.2],[105.8,0.35],[106.1,0.25],[106.4,0.3],[106.7,0.2],[107.0,0.3],[107.3,0.25],[107.6,0.35],[107.9,0.3],[108.2,0.4],[108.5,0.35],[108.8,0.5],[109.1,0.45],[109.4,0.6],[109.7,0.75],[110.0,0.9],[110.2,1.0],[110.5,0.7],[110.8,0.5],[111.1,0.4],[111.4,0.45],[111.7,0.35],[112.0,0.4],[112.3,0.3],[112.6,0.38],[112.9,0.32]]
];
const tSCaGreenR = [
 [[36.6,0.75],[36.8,0.6],[37.0,0.85],[37.2,0.7]],
 [[45.2,1.0],[45.4,0.55],[45.5,1.82],[45.6,0.9],[45.8,0.5],[46.0,0.7],[46.2,0.45]],
 [[49.5,1.2],[49.7,1.5],[49.9,1.1],[50.1,1.3],[50.3,0.95],[50.5,1.15],[50.7,0.85],[50.9,1.05],[51.1,0.8],[51.3,0.95],[51.5,0.7],[51.7,0.9],[51.9,0.65],[52.1,0.8],[52.3,0.6],[52.5,0.75],[52.7,0.55],[52.9,0.7],[53.1,0.6]],
 [[56.9,0.7],[57.1,0.5],[57.3,0.65],[57.5,0.45],[57.7,0.6],[57.9,0.4],[58.1,0.55],[58.3,0.42],[58.5,0.6],[58.7,0.5],[58.9,0.7]],
 [[101.6,1.15],[101.8,0.3],[102.0,0.4],[102.2,0.55],[102.4,0.4],[102.6,0.6],[102.8,0.45],[103.0,0.7],[103.2,0.5],[103.4,0.65],[103.6,0.45],[103.8,0.85],[104.0,0.5],[104.2,0.6],[104.4,0.4],[104.6,0.55],[104.8,0.35],[105.0,0.5],[105.2,0.3],[105.4,0.6],[105.6,0.45],[105.8,0.7],[106.0,0.4],[106.2,1.0],[106.3,1.65],[106.4,0.6],[106.6,0.9],[106.8,0.45],[107.0,0.35],[107.2,0.5],[107.4,0.4]],
 [[112.9,0.8],[113.1,0.55],[113.3,1.0],[113.5,0.7],[113.7,0.85],[113.9,0.6],[114.1,0.75],[114.3,0.5],[114.5,0.65],[114.7,0.45],[114.9,0.6],[115.1,0.4],[115.3,0.5],[115.5,0.35],[115.7,0.45],[115.9,0.3],[116.1,0.4],[116.3,0.25],[116.5,0.35],[116.7,0.2],[116.9,0.3],[117.1,0.15]],
 [[122.9,0.35],[123.1,0.2],[123.3,0.45],[123.5,0.3],[123.7,0.55],[123.9,0.35],[124.1,0.5],[124.3,0.7],[124.5,0.45],[124.7,0.6],[124.9,0.4],[125.1,0.55],[125.3,0.35],[125.5,0.5],[125.7,0.3],[125.9,0.45],[126.1,0.32],[126.3,0.48],[126.5,0.3],[126.7,0.45],[126.9,0.28],[127.1,0.42],[127.3,0.3],[127.5,0.5],[127.7,0.32],[127.9,0.45],[128.1,0.25],[128.3,0.4],[128.5,0.28],[128.7,0.6],[128.9,1.0],[129.1,1.4],[129.3,1.2],[129.5,1.35],[129.7,1.15],[129.9,1.3],[130.1,1.1],[130.3,1.25],[130.5,1.05],[130.7,1.2],[130.9,1.0],[131.1,1.15],[131.3,0.95],[131.5,1.1],[131.7,0.9],[131.9,1.05],[132.1,0.85],[132.3,1.0],[132.5,0.8],[132.7,0.9],[132.9,0.95],[133.1,1.05],[133.3,1.2],[133.5,1.3],[133.7,1.4],[133.9,1.5]]
];

// Text labels
const periods = [{name:"Holocene", start:0, end:11.45, label:6.05}, {name:"YD", start:11.45, end:12.66, label:12.25}];
const misLabels = [{age:53.1, label:"MIS 3"}, {age:82.3, label:"MIS 5a"}, {age:103.0, label:"MIS 5c"}, {age:127.3, label:"MIS 5e"}];
const caveLabels = [{age:40.6, label:"Kesang Cave"}, {age:40.1, label:"Ton Cave"}];
const srTicks = [0, 200, 400, 600];

// ===================== LAYOUT =====================
const W = 787, H = 919, TOP = 18, BOT = 879;
const PANEL = {L: {left: 50, right: 189, domain: [0, 16]}, R: {left: 214, right: 718, domain: [35.8, 140]}};
const C = {blue: "#0000ff", green: "#1a801a", olive: "#8c8a00", brown: "#8b1010", navy: "#00008b", gray: "#bdbdbd", orange: "#ee7c1e"};
const FONT = "'Liberation Sans', Arial, sans-serif";
const SERIF = "'Liberation Serif', 'Times New Roman', serif";

function yDomain([v1, p1, v2, p2]) { const f = p => v1 + (p - p1) * (v2 - v1) / (p2 - p1); return [f(TOP), f(BOT)]; }
function makePlot(panel, cal, marks) {
  const P = PANEL[panel];
  const o = {width: W, height: H, marginLeft: P.left, marginRight: W - P.right, marginTop: TOP, marginBottom: H - BOT,
    x: {domain: P.domain, axis: null},
    style: {background: "none", fontFamily: FONT, fontSize: "13.5px", color: "#000", overflow: "visible"}, marks};
  if (cal) o.y = {domain: yDomain(cal), range: [TOP, BOT], axis: null};
  return Plot.plot(o);
}
const S = (segs, color, o = {}) => ({segs, color, ...o});
function seriesMarks(list) {
  const out = [];
  for (const s of list) for (const seg of s.segs)
    out.push(Plot.line(seg, {x: d => d[0], y: d => d[1], stroke: s.color, strokeWidth: s.w ?? 1.3, strokeDasharray: s.dash, curve: s.curve ?? "linear"}));
  return out;
}
const fInt = d => String(d), f1 = d => d.toFixed(1);
const insL = insolation.filter(d => d[0] <= 16), insR = insolation.filter(d => d[0] >= 35.8);
const INS = {curve: "catmull-rom", w: 1.2};
const DASH = {dash: "5,3"};

const SPECS = [
  {cal: [520, 54.7, 440, 158.3], ticks: [440, 460, 480, 500, 520], fmt: fInt,
   axes: [["R", "right", true]], titles: [["R", "right", 52, 485, "JJAInsolation\n(40ºN,W/m²)"]],
   series: {L: [S([insL], C.gray, INS)], R: [S([insR], C.gray, INS)]}},
  {cal: [520, 460, 440, 563.3], ticks: [440, 460, 480, 500, 520], fmt: fInt,
   axes: [["R", "right", true]], titles: [["R", "right", 52, 477.4, "JJAInsolation\n(40ºN,W/m²)"]],
   series: {L: [S([insL], C.gray, INS)], R: [S([insR], C.gray, INS)]}},
  {cal: [-12, 78.3, -6, 165.7], ticks: [-12, -10, -8, -6], fmt: fInt,
   axes: [["L", "left", true], ["L", "right", false], ["R", "left", false]],
   titles: [["L", "left", -37.5, -8.8, "δ¹⁸O (‰)"]], notes: [["L", 2.2, -12.7, "(a)"]],
   series: {L: [S([kO18Brown], C.brown), S([kO18Blue], C.blue), S([kO18Olive], C.olive), S([kO18OliveDash], C.olive, DASH),
                S([kO18Green, kO18GreenTail], C.green), S([kO18GreenDash], C.green, DASH)],
            R: [S(kO18BlueR, C.blue), S([kO18BlueRDash], C.blue, DASH)]}},
  {cal: [-10, 190, -2, 285.7], ticks: [-10, -8, -6, -4, -2, 0], fmt: fInt,
   axes: [["R", "right", true], ["L", "right", false]],
   titles: [["R", "right", 32, -5.65, "δ¹³C (‰)"]], notes: [["L", 2.2, -10.1, "(b)"]],
   series: {L: [S([kC13Brown], C.brown), S([kC13Blue], C.blue), S([kC13Olive], C.olive), S([kC13OliveDash], C.olive, DASH),
                S([kC13Green, kC13GreenTail], C.green), S([kC13GreenDash], C.green, DASH)],
            R: [S(kC13GreenR, C.green), S([kC13GreenRDash], C.green, DASH)]}},
  {cal: [0, 301.7, 6, 371], ticks: [0, 2, 4, 6], fmt: fInt,
   axes: [["L", "left", true]], titles: [["L", "left", -37.5, 2.6, "Sr/Ca (x1000)"]],
   notes: [["L", 2.2, -0.58, "(c)"], ["L", 2.2, 8.16, "(d)"]],
   series: {L: [S([kSrCa1, kSrCa2], C.olive)]}},
  {cal: [0, 294.3, 600, 351], series: {R: [S(kSr, C.olive, {w: 1.6})]}, sr: true},
  {cal: [0, 366, 8000, 433.3], ticks: [0, 2000, 4000, 6000, 8000], fmt: fInt,
   axes: [["R", "right", true]], titles: [["R", "right", 52, 5000, "Mg (ppm)"]],
   series: {R: [S(kMg, C.navy, {w: 1.5})]}},
  {cal: [-10, 460, -2, 572.7], ticks: [-10, -8, -6, -4, -2], minor: [-9, -7, -5, -3], fmt: fInt,
   axes: [["L", "left", true], ["L", "right", false], ["R", "left", false]],
   titles: [["L", "left", -37.5, -6.1, "δ¹⁸O (‰)"]], notes: [["L", 2.3, -8.0, "(e)"], ["L", 2.3, -1.77, "(f)"]],
   series: {L: [S([tO18BlueL], C.blue, {w: 1.5}), S([tO18GreenL], C.green, {w: 1.5})],
            R: [S(tO18BlueR, C.blue, {w: 1.5}), S(tO18GreenR, C.green, {w: 1.5})]}},
  {cal: [1, 590, 7, 672.7], ticks: [1, 3, 5, 7], minor: [2, 4, 6], fmt: fInt,
   axes: [["R", "right", true], ["L", "right", false]],
   titles: [["R", "right", 30, 3.4, "δ¹³C (‰)"]],
   series: {L: [S([tC13BlueL], C.blue, {w: 1.5}), S([tC13GreenL], C.green, {w: 1.5})],
            R: [S(tC13BlueR, C.blue, {w: 1.5}), S(tC13GreenR, C.green, {w: 1.5})]}},
  {cal: [0.5, 666.7, 2.5, 794], ticks: [0.5, 1, 1.5, 2, 2.5], fmt: f1,
   axes: [["L", "left", true], ["R", "left", false]],
   titles: [["L", "left", -37.5, 1.45, "Sr/Ca (x1000)"]], notes: [["L", 2.4, 0.44, "(g)"], ["L", 2.4, 2.08, "(h)"]],
   series: {L: [S([tGBlueL], C.blue, {w: 1.5}), S([tGGreenL], C.green, {w: 1.5}), S([tHBlueL], C.blue, {w: 1.5}), S([tHGreenL], C.green, {w: 1.5})],
            R: [S(tGBlueR, C.blue, {w: 1.5}), S(tGGreenR, C.green, {w: 1.5})]}},
  {cal: [0, 770.7, 1.5, 861], ticks: [0, 0.5, 1, 1.5], fmt: f1,
   axes: [["R", "right", true], ["L", "right", false]],
   titles: [["R", "right", 42, 0.75, "S/Ca (x1000)"]],
   series: {R: [S(tSCaBlueR, C.blue, {w: 1.5}), S(tSCaGreenR, C.green, {w: 1.5})]}}
];

function buildLayer(spec, panel) {
  const marks = [];
  marks.push(...seriesMarks(spec.series?.[panel] ?? []));
  for (const [p, anchor, labels] of spec.axes ?? []) if (p === panel) {
    marks.push(Plot.axisY({anchor, ticks: spec.ticks, tickSize: -5, tickPadding: labels ? (anchor === "left" ? 11 : 8) : 0,
      tickFormat: labels ? spec.fmt : () => "", label: null, strokeWidth: 1.2}));
    if (spec.minor) marks.push(Plot.axisY({anchor, ticks: spec.minor, tickSize: -3, tickFormat: () => "", label: null, strokeWidth: 1.2}));
  }
  for (const [p, anchor, dx, y, text] of spec.titles ?? []) if (p === panel)
    marks.push(Plot.text([text], {text: d => d, frameAnchor: anchor, y: () => y, dx, rotate: -90, textAnchor: "middle", lineAnchor: "middle", fontSize: 15.5, lineHeight: 0.95}));
  for (const [p, x, y, text] of spec.notes ?? []) if (p === panel)
    marks.push(Plot.text([text], {text: d => d, x: () => x, y: () => y, fontWeight: "bold", fontSize: 13}));
  if (spec.sr && panel === "R") {
    const ax = 48.3;
    marks.push(Plot.ruleX([ax], {x: d => d, y1: () => -55, y2: () => 688, strokeWidth: 1.5}));
    marks.push(Plot.ruleY(srTicks, {y: d => d, x1: () => ax, x2: () => ax + 1.4, strokeWidth: 1.3}));
    marks.push(Plot.text(srTicks, {y: d => d, x: () => ax, text: d => String(d), textAnchor: "end", dx: -4}));
    marks.push(Plot.text(["Sr (ppm)"], {text: d => d, x: () => 39.7, y: () => 293, rotate: -90, textAnchor: "middle", fontSize: 15.5}));
  }
  if (!marks.length) return null;
  return makePlot(panel, spec.cal, marks);
}

function xAxes(majors, minors) {
  const m = [];
  for (const anchor of ["top", "bottom"]) {
    m.push(Plot.axisX({anchor, ticks: majors, tickSize: -6, tickPadding: anchor === "top" ? 9 : 10, tickFormat: fInt, label: null, strokeWidth: 1.2}));
    m.push(Plot.axisX({anchor, ticks: minors, tickSize: -3.5, tickFormat: () => "", label: null, strokeWidth: 1.2}));
  }
  return m;
}

const chart = document.getElementById("chart");
// background shading (left panel)
chart.appendChild(makePlot("L", null, [
  Plot.rect(periods.filter(d => d.name === "Holocene"), {x1: "start", x2: "end", fill: "#dddddd", insetTop: 43, insetBottom: 24}),
  Plot.rect(periods.filter(d => d.name === "YD"), {x1: "start", x2: "end", fill: "#d3f8b4", insetTop: 43, insetBottom: 27})
]));
for (const spec of SPECS) for (const panel of ["L", "R"]) {
  const svg = buildLayer(spec, panel);
  if (svg) chart.appendChild(svg);
}
// frames, x axes and annotations
const rMinor = d3.range(36, 141, 4).filter(d => d % 20 !== 0);
const SERIF_BI = {fontFamily: SERIF, fontWeight: "bold", fontStyle: "italic", lineAnchor: "middle"};
chart.appendChild(makePlot("L", null, [
  Plot.frame({strokeWidth: 1.5}),
  ...xAxes([0, 4, 8, 12, 16], [2, 6, 10, 14]),
  Plot.text(periods, {x: "label", text: "name", frameAnchor: "top", dy: 24, fontSize: 15, ...SERIF_BI}),
  Plot.text(["Age (ka, BP)"], {text: d => d, frameAnchor: "bottom", dy: 31, lineAnchor: "middle", fontSize: 16})
]));
chart.appendChild(makePlot("R", null, [
  Plot.frame({strokeWidth: 1.5}),
  ...xAxes([40, 60, 80, 100, 120, 140], rMinor),
  Plot.text(misLabels, {x: "age", text: "label", frameAnchor: "top", dy: 21, fontSize: 14.5, ...SERIF_BI}),
  Plot.text(caveLabels.slice(0, 1), {x: "age", text: "label", frameAnchor: "top", dy: 44.3, textAnchor: "start", fill: C.orange, fontSize: 19, ...SERIF_BI}),
  Plot.text(caveLabels.slice(1), {x: "age", text: "label", frameAnchor: "top", dy: 425.3, textAnchor: "start", fill: C.orange, fontSize: 19, ...SERIF_BI}),
  Plot.text(["Age (ka, BP)"], {text: d => d, frameAnchor: "bottom", dy: 31, dx: 8, lineAnchor: "middle", fontSize: 16})
]));
</script></body></html>
